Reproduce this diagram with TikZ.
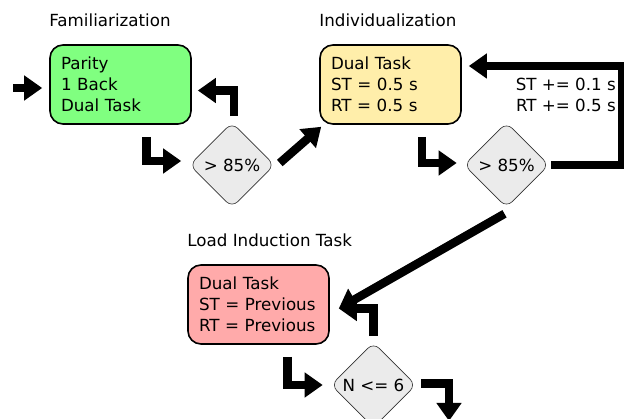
\documentclass[tikz,border=0pt]{standalone}
\usepackage{fontspec}
\setmainfont{DejaVu Sans}
\usetikzlibrary{shapes.geometric,arrows.meta}
\definecolor{famgreen}{RGB}{128,255,128}
\definecolor{indyellow}{RGB}{255,238,170}
\definecolor{loadred}{RGB}{255,170,170}
\definecolor{checkgray}{RGB}{235,235,235}
\tikzstyle{taskbox} = [draw=black, line width=1.6pt, rectangle, rounded corners=13pt,
text width=119pt, align=left, inner xsep=11pt, minimum height=79pt,
font=\fontsize{16.7}{21}\selectfont]
\tikzstyle{check} = [draw=black!80, fill=checkgray, diamond, aspect=1, inner sep=0pt,
minimum width=85pt, minimum height=85pt, rounded corners=8pt, line width=0.6pt,
font=\fontsize{16.7}{21}\selectfont]
\tikzstyle{phase} = [anchor=base west, inner sep=0pt, font=\fontsize{16.7}{21}\selectfont]
\tikzstyle{flow} = [line width=8.5pt, -{Triangle[length=18pt,width=24pt]}]

\begin{document}
\begin{tikzpicture}[x=1pt,y=-1pt]
		\useasboundingbox (0,0) rectangle (624,419);
		% task boxes
		\node [taskbox, fill=famgreen] (fam) at (120.5,84.5) {Parity\\1 Back\\Dual Task};
		\node [taskbox, fill=indyellow] (ind) at (390.5,84.5) {Dual Task\\ST = 0.5 s\\RT = 0.5 s};
		\node [taskbox, fill=loadred] (load) at (258.5,304.5) {Dual Task\\ST = Previous\\RT = Previous};
		\node [phase] (famlabel) at ([yshift=18pt]fam.north west) {Familiarization};
		\node [phase] (indlabel) at ([yshift=18pt]ind.north west) {Individualization};
		\node [phase] (loadlabel) at ([yshift=18pt]load.north west) {Load Induction Task};
		% checks
		\node [check] (dia1) at (232,165) {> 85\%};
		\node [check] (dia2) at (506.5,165) {> 85\%};
		\node [check] (dia3) at (373.5,385) {N <= 6};
		\node [anchor=east, align=right, inner sep=0pt, font=\fontsize{16.7}{21}\selectfont] (incr) at (616,95) {ST += 0.1 s\\RT += 0.5 s};
		\coordinate (start) at (13,88);
		\coordinate (out) at (449,421);
		% arrows
		\draw [flow] (start) -- ([xshift=-7pt,yshift=-3.5pt]fam.west);
		\draw [flow] ([xshift=26pt,yshift=-12pt]fam.south) |- ([xshift=-8pt,yshift=4pt]dia1.west);
		\draw [flow] ([xshift=2pt,yshift=6pt]dia1.north) |- ([xshift=6pt,yshift=-6pt]fam.east);
		\draw [flow] ([xshift=5pt,yshift=2pt]dia1.east) -- ([xshift=2pt,yshift=-2pt]ind.south west);
		\draw [flow] ([xshift=31.5pt,yshift=-12pt]ind.south) |- ([xshift=-7pt,yshift=2pt]dia2.west);
		\draw [flow] ([xshift=2pt]dia2.east) -- ++(71,0) |- ([xshift=7pt,yshift=18.5pt]ind.east);
		\draw [flow] ([xshift=-2pt,yshift=-6pt]dia2.south) -- ([xshift=9pt,yshift=-4pt]load.east);
		\draw [flow] ([xshift=29pt,yshift=-12pt]load.south) |- ([xshift=-8pt]dia3.west);
		\draw [flow] ([yshift=6pt]dia3.north) |- ([xshift=9pt,yshift=-4pt]load.east);
		\draw [flow] ([xshift=5pt,yshift=1.5pt]dia3.east) -| (out);
\end{tikzpicture}
\end{document}
